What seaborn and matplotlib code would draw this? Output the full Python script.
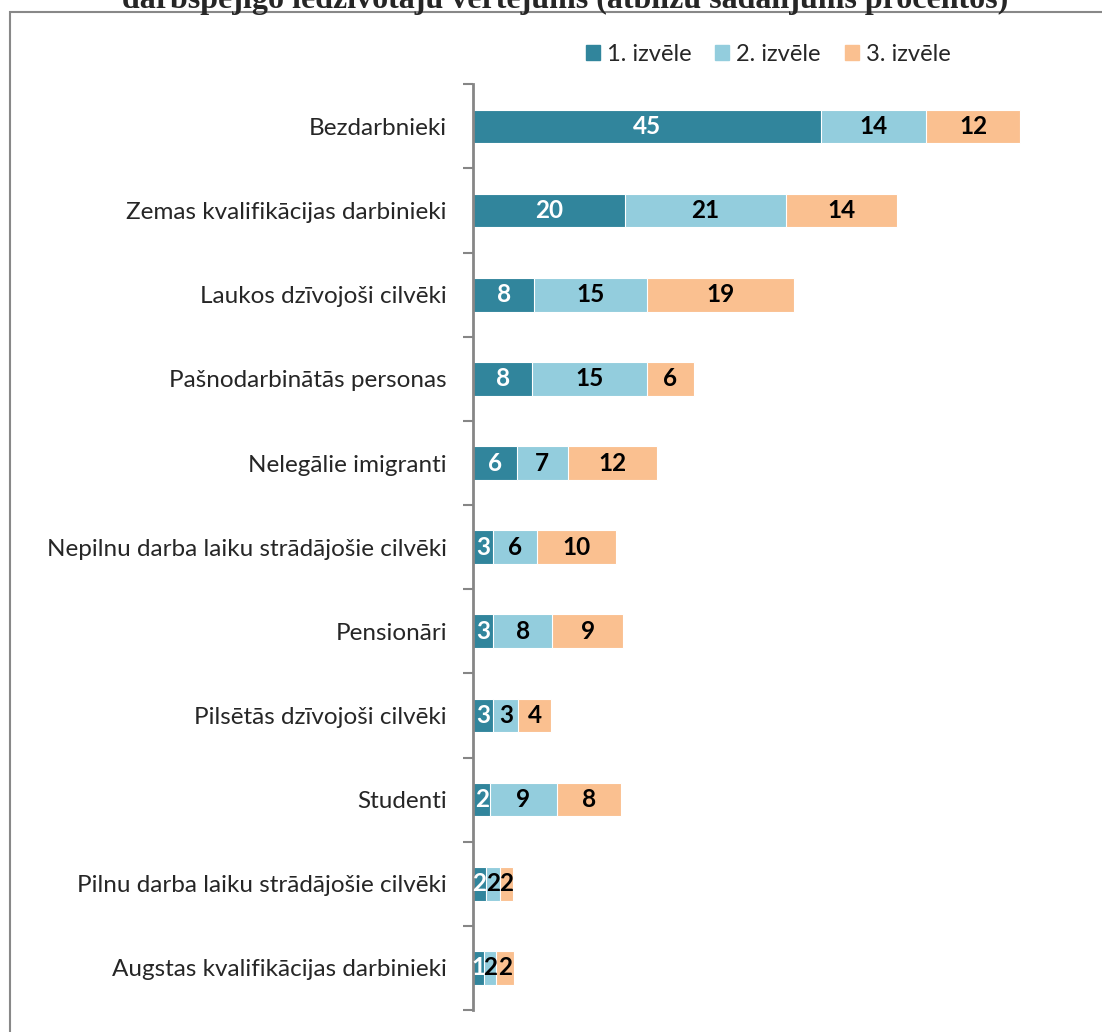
import numpy as np
import pandas as pd
import matplotlib.pyplot as plt
import matplotlib.patches as mpatches
import seaborn as sns

# === Dati ===
categories = [
    "Bezdarbnieki",
    "Zemas kvalifikācijas darbinieki",
    "Laukos dzīvojoši cilvēki",
    "Pašnodarbinātās personas",
    "Nelegālie imigranti",
    "Nepilnu darba laiku strādājošie cilvēki",
    "Pensionāri",
    "Pilsētās dzīvojoši cilvēki",
    "Studenti",
    "Pilnu darba laiku strādājošie cilvēki",
    "Augstas kvalifikācijas darbinieki",
]
izvele_1 = [45.0, 19.6, 7.9, 7.6, 5.6, 2.6, 2.6, 2.6, 2.2, 1.6, 1.4]
izvele_2 = [13.6, 20.8, 14.6, 14.9, 6.6, 5.6, 7.6, 3.2, 8.6, 1.9, 1.6]
izvele_3 = [12.2, 14.4, 19.0, 6.0, 11.6, 10.2, 9.2, 4.3, 8.3, 1.6, 2.3]
series_names = ["1. izvēle", "2. izvēle", "3. izvēle"]
colors = ["#31859C", "#93CDDD", "#FAC090"]
title = "darbspējīgo iedzīvotāju vērtējums (atbilžu sadalījums procentos)"

df = pd.DataFrame({"kat": categories, "v1": izvele_1, "v2": izvele_2, "v3": izvele_3})
df["c1"] = df["v1"]
df["c2"] = df["v1"] + df["v2"]
df["c3"] = df["c2"] + df["v3"]

sns.set_style("white")
plt.rcParams["font.family"] = ["Lato", "DejaVu Sans"]

fig = plt.figure(figsize=(11.02, 10.32), dpi=100)
ax = fig.add_axes([0.4295, 0.0213, 0.561, 0.897])

# sakrautās joslas: zīmē kumulatīvās summas no garākās uz īsāko
for col, c in zip(["c3", "c2", "c1"], colors[::-1]):
    sns.barplot(data=df, x=col, y="kat", color=c, orient="h", width=0.40,
                saturation=1, edgecolor="white", linewidth=0.8, ax=ax)

# datu etiķetes
for i, row in df.iterrows():
    starts = [0, row["c1"], row["c2"]]
    vals = [row["v1"], row["v2"], row["v3"]]
    for j in range(3):
        ax.text(starts[j] + vals[j] / 2, i, f"{round(vals[j])}", ha="center", va="center",
                fontsize=17.5, fontweight="bold", color="white" if j == 0 else "black")

ax.set_xlim(0, 80)
ax.set_ylim(10.5, -0.5)
ax.set_xlabel("")
ax.set_ylabel("")
ax.set_xticks([])
ax.tick_params(axis="y", which="major", length=0, labelsize=17.5, pad=19)
ax.set_yticks(np.arange(-0.5, 11, 1), minor=True)
ax.tick_params(axis="y", which="minor", left=True, length=7, width=1.5,
               color="#868686", direction="out")
for s in ["top", "right", "bottom"]:
    ax.spines[s].set_visible(False)
ax.spines["left"].set_color("#868686")
ax.spines["left"].set_linewidth(2)

# leģenda
handles = [mpatches.Patch(color=c, label=n) for c, n in zip(colors, series_names)]
fig.legend(handles=handles, loc="center", bbox_to_anchor=(0.697, 0.947), ncol=3, frameon=False,
           fontsize=17, handlelength=0.6, handleheight=0.6, handletextpad=0.3, columnspacing=1.0)

# diagrammas rāmis
fig.patches.append(mpatches.Rectangle((10 / 1102, -0.01), 1.1, 1 - 12 / 1032 + 0.01,
                                      transform=fig.transFigure, fill=False,
                                      edgecolor="#888888", linewidth=1.5))

# nogrieztais virsraksts
fig.text(0.513, 1 - 8 / 1032, title, ha="center", va="baseline", fontsize=23,
         fontweight="bold", family=["Liberation Serif", "DejaVu Serif"])

fig.savefig("out.png", dpi=100)
